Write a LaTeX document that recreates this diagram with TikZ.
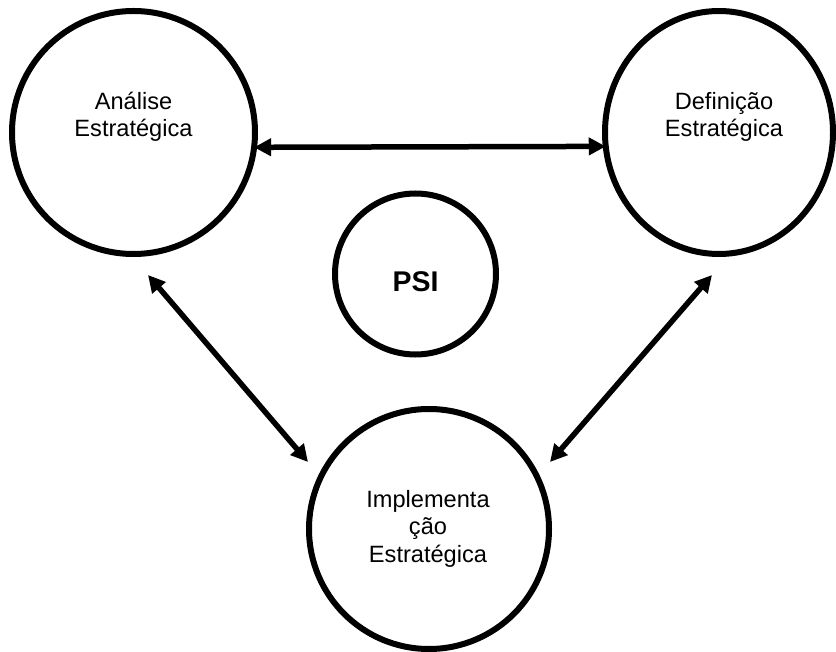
\documentclass[tikz,border=0pt]{standalone}
\usepackage{fontspec}
\setmainfont{Liberation Sans}
\usetikzlibrary{arrows.meta,shapes.geometric}
\begin{document}
\begin{tikzpicture}[x=1pt,y=-1pt,
  ring/.style={draw=black,line width=6pt,inner sep=0pt,outer sep=0pt},
  lbl/.style={align=center,inner sep=0pt,anchor=base,
    font=\fontsize{23.6}{27.3}\selectfont},
  link/.style={line width=5.5pt,
    {Triangle[length=17pt,width=17pt]}-{Triangle[length=17pt,width=17pt]}}]
\useasboundingbox[fill=white] (0,0) rectangle (836,652);

% the four phases
\node[ring,circle,minimum size=243pt] (A) at (133.5,132.5) {};
\node[ring,ellipse,minimum width=228pt,minimum height=243pt] (B) at (719,132.5) {};
\node[ring,circle,minimum size=240pt] (C) at (429,529) {};
\node[ring,circle,minimum size=161pt] (P) at (415.5,274) {};

% labels (anchored at the baseline of their last line)
\node[lbl] (tA) at (133.5,137) {Análise\\Estratégica};
\node[lbl] (tB) at (724,137) {Definição\\Estratégica};
\node[lbl] (tC) at (428,562) {Implementa\\ção\\Estratégica};
\node[inner sep=0pt,anchor=base,font=\fontsize{28.5}{34}\selectfont\bfseries]
  (tP) at (415.5,292) {PSI};

% free ends of the diagonal links
\coordinate (aEnd) at (148,275);
\coordinate (cEndL) at (308,462);
\coordinate (bEnd) at (712,275);
\coordinate (cEndR) at (550,462);

% links
\draw[link] (A.-7) -- (B.187);
\draw[link] (aEnd) -- (cEndL);
\draw[link] (bEnd) -- (cEndR);
\end{tikzpicture}
\end{document}
